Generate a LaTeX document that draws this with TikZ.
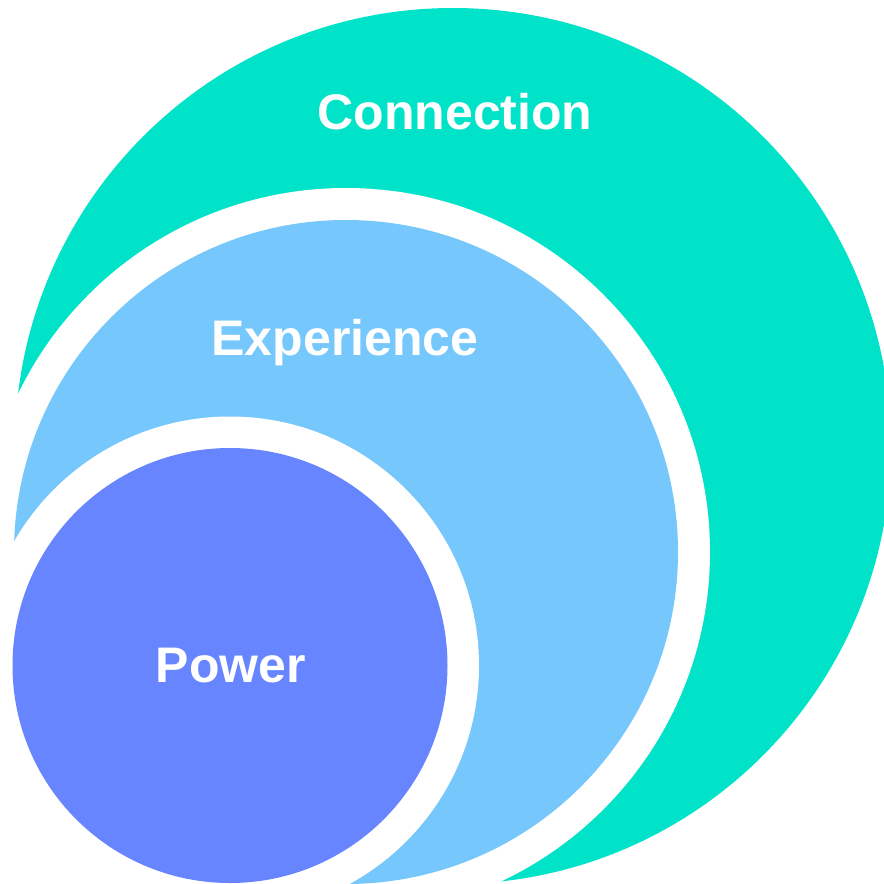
\documentclass[tikz,border=0pt]{standalone}
\usepackage{fontspec}
\setmainfont{Liberation Sans}
\definecolor{tealc}{RGB}{0,227,200}
\definecolor{lightb}{RGB}{117,199,252}
\definecolor{powerc}{RGB}{102,133,255}
\begin{document}
\begin{tikzpicture}[x=1pt,y=-1pt,
  lbl/.style={text=white,font=\fontsize{50}{60}\selectfont\bfseries,anchor=base,inner sep=0pt}]
\useasboundingbox (0,0) rectangle (884,884);
\clip (0,0) rectangle (884,884);
\fill[tealc] (453,446) circle[radius=438];
\fill[white] (346,552) circle[radius=364];
\fill[lightb] (346,552) circle[radius=332];
\fill[white] (230,665.5) circle[radius=249];
\fill[powerc] (230,665.5) circle[radius=217.5];
\node[lbl] (conn) at (455,129) {Connection};
\node[lbl] (exp) at (345,355) {Experience};
\node[lbl] (pow) at (231,682) {Power};
\end{tikzpicture}
\end{document}
